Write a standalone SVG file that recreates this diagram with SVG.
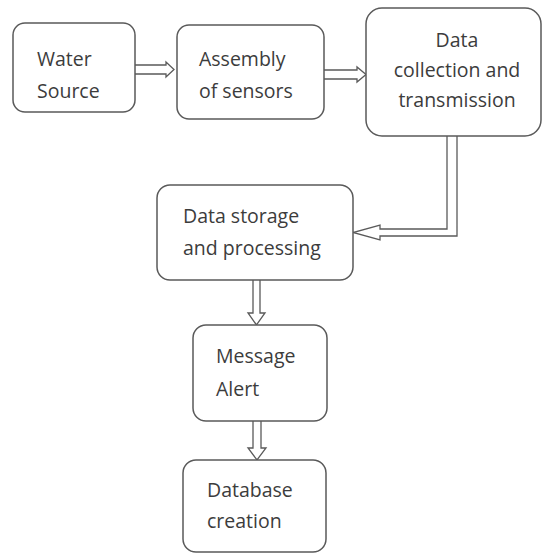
<svg xmlns="http://www.w3.org/2000/svg" width="544" height="554" viewBox="0 0 544 554">
<style>
.box{fill:#ffffff;stroke:#5a5a5a;stroke-width:1.5}
.lbl{font-family:"Open Sans","Liberation Sans",sans-serif;font-size:19.5px;fill:#3c3c3c}
.mid{text-anchor:middle}
.con{fill:#ffffff;stroke:#5a5a5a;stroke-width:1.3;stroke-linejoin:miter}
</style>
<rect width="544" height="554" fill="#ffffff"/>
<g id="connectors">
<path class="con" d="M135,65 H166 V62 L174,69.5 L166,77 V74 H135"/>
<path class="con" d="M324,70 H357 V67 L366,74.5 L357,82 V79 H324"/>
<path class="con" d="M447,136 V229 H380 V225 L353,232.5 L380,240 V236 H457 V136"/>
<path class="con" d="M253,280 V313 H248 L256.5,325 L265,313 H260 V280"/>
<path class="con" d="M253,421 V448 H248 L257,460 L266,448 H261 V421"/>
</g>
<g id="water-source">
<rect class="box" x="13" y="23" width="122" height="89" rx="12"/>
<text class="lbl" x="37" y="66">Water</text>
<text class="lbl" x="37" y="98">Source</text>
</g>
<g id="assembly-sensors">
<rect class="box" x="177" y="25" width="147" height="94" rx="12"/>
<text class="lbl" x="199" y="66">Assembly</text>
<text class="lbl" x="199" y="98">of sensors</text>
</g>
<g id="data-collection">
<rect class="box" x="366" y="8" width="175" height="128" rx="16"/>
<text class="lbl mid" x="457" y="47">Data</text>
<text class="lbl mid" x="457" y="77">collection and</text>
<text class="lbl mid" x="457" y="107">transmission</text>
</g>
<g id="data-storage">
<rect class="box" x="157" y="185" width="196" height="95" rx="13"/>
<text class="lbl" x="183" y="223">Data storage</text>
<text class="lbl" x="183" y="255">and processing</text>
</g>
<g id="message-alert">
<rect class="box" x="193" y="325" width="134" height="96" rx="13"/>
<text class="lbl" x="216" y="363">Message</text>
<text class="lbl" x="216" y="396">Alert</text>
</g>
<g id="database-creation">
<rect class="box" x="183" y="460" width="143" height="92" rx="13"/>
<text class="lbl" x="207" y="497">Database</text>
<text class="lbl" x="207" y="528">creation</text>
</g>
</svg>
